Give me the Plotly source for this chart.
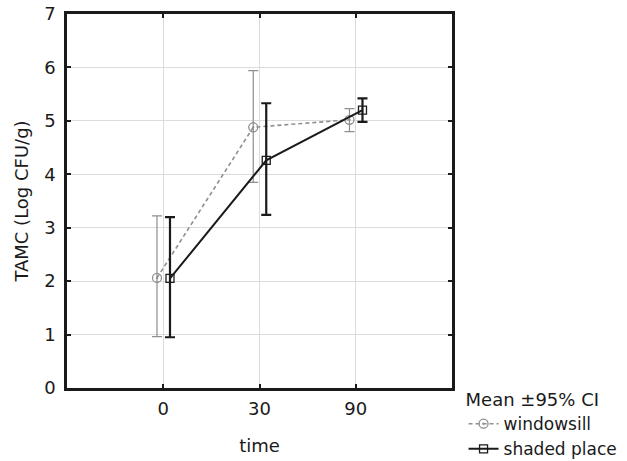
import plotly.graph_objects as go
import numpy as np

categories = ["0", "30", "90"]
series_names = ["windowsill", "shaded place"]
windowsill_mean = [2.06, 4.88, 5.02]
windowsill_low = [0.96, 3.85, 4.80]
windowsill_high = [3.22, 5.94, 5.23]
shaded_mean = [2.05, 4.26, 5.20]
shaded_low = [0.95, 3.24, 4.98]
shaded_high = [3.20, 5.33, 5.42]

idx = np.arange(len(categories))
FONT = "DejaVu Sans, Liberation Sans, Arial, sans-serif"
FS = 18

def trace(name, mean, low, high, offset, color, dash, symbol, size, lw, ew):
    mean = np.array(mean); low = np.array(low); high = np.array(high)
    return go.Scatter(
        x=idx + offset, y=mean, name=name, mode="lines+markers",
        line=dict(color=color, width=lw, dash=dash),
        marker=dict(symbol=symbol, size=size, color=color, line=dict(color=color, width=1.3)),
        error_y=dict(type="data", symmetric=False, array=high - mean, arrayminus=mean - low,
                     color=color, thickness=ew, width=5),
    )

fig = go.Figure()
fig.add_trace(trace(series_names[0], windowsill_mean, windowsill_low, windowsill_high,
                    -0.065, "#8f8f8f", "4px,3px", "circle-open-dot", 9, 1.6, 1.2))
fig.add_trace(trace(series_names[1], shaded_mean, shaded_low, shaded_high,
                    0.07, "#1a1a1a", "solid", "square-open", 8, 2.0, 2.2))

axis_common = dict(showline=True, linecolor="#1a1a1a", linewidth=2.5, mirror="ticks",
                   ticks="inside", ticklen=4, tickcolor="#1a1a1a", tickwidth=1.5,
                   showgrid=True, gridcolor="#dcdcdc", gridwidth=1, zeroline=False,
                   tickfont=dict(family=FONT, size=FS, color="#1a1a1a"))

fig.update_layout(
    width=627, height=461,
    margin=dict(l=67, r=175, t=14, b=73, autoexpand=False),
    paper_bgcolor="white", plot_bgcolor="white",
    font=dict(family=FONT, size=FS, color="#1a1a1a"),
    xaxis=dict(range=[-1, 3], tickvals=list(idx), ticktext=categories,
               title=dict(text="time", standoff=22, font=dict(family=FONT, size=FS)),
               ticklabelstandoff=3, automargin=False, **axis_common),
    yaxis=dict(range=[0, 7], tickvals=list(range(0, 8)), dtick=1,
               title=dict(text="TAMC (Log CFU/g)", standoff=11, font=dict(family=FONT, size=FS)),
               ticklabelstandoff=5, automargin=False, **axis_common),
    showlegend=True,
    legend=dict(x=1.03, y=0.014, xanchor="left", yanchor="top",
                title=dict(text="Mean ±95% CI", font=dict(family=FONT, size=FS)),
                font=dict(family=FONT, size=17), bgcolor="rgba(0,0,0,0)",
                itemwidth=30, tracegroupgap=0),
)

fig.write_html("out.html")
